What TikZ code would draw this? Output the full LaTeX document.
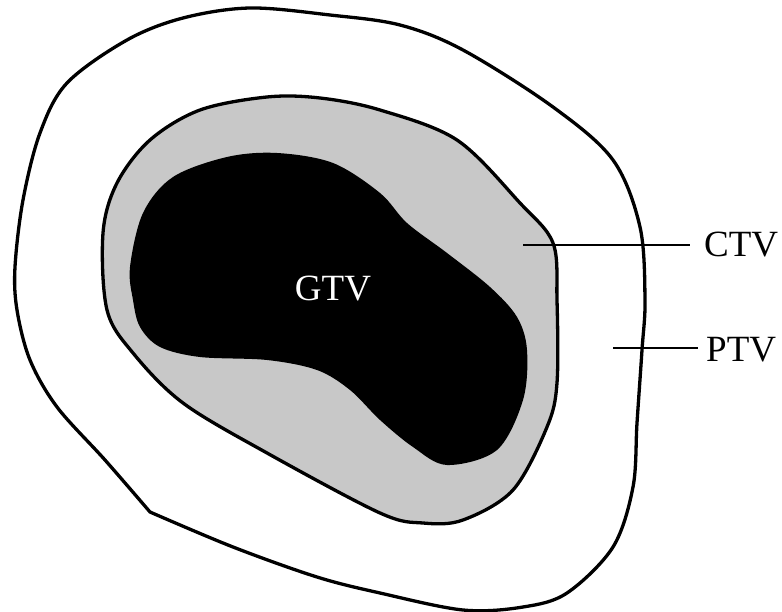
\documentclass[tikz,border=0pt]{standalone}
\usepackage{fontspec}
\setmainfont{Liberation Serif}
\begin{document}
\begin{tikzpicture}[x=1pt,y=-1pt,
  contour/.style={draw=black,line width=3.3pt,line join=round},
  leader/.style={draw=black,line width=2.2pt},
  lbl/.style={font=\fontsize{37}{40}\selectfont,inner sep=0pt}]
\useasboundingbox (0,0) rectangle (782,612);
% PTV outer contour (corner at lower left)
\draw[contour,fill=white] plot[smooth,tension=0.55] coordinates {
 (150,512) (233,547) (317,577) (380,593) (463,610) (523,607) (567,593)
 (613,547) (633,487) (637,423) (642,350) (645,300) (640,227) (613,160)
 (553,107) (463,50) (400,25) (330,15) (250,8) (183,18) (127,40) (67,83)
 (40,133) (23,200) (15,267) (17,310) (30,360) (57,407) (105,460) (150,512)} -- cycle;
% CTV contour
\draw[contour,fill={rgb,255:red,200;green,200;blue,200}] plot[smooth cycle,tension=0.55] coordinates {
 (200,110) (267,97) (320,98) (380,110) (457,140) (520,203) (553,243)
 (557,300) (557,383) (547,427) (513,490) (463,520) (423,523) (380,513)
 (267,453) (183,403) (133,353) (107,310) (103,233) (117,183) (150,140)};
% GTV
\fill[black] plot[smooth cycle,tension=0.55] coordinates {
 (133,300) (130,267) (143,213) (173,177) (227,157) (277,153) (333,163)
 (380,193) (407,223) (447,253) (490,287) (517,317) (527,350) (523,400)
 (497,450) (447,465) (413,447) (380,420) (350,390) (317,370) (267,360)
 (200,357) (160,347) (140,327)};
\node[lbl,text=white] (gtv) at (333,289) {GTV};
\node[lbl,anchor=west] (ctv) at (704,245) {CTV};
\node[lbl,anchor=west] (ptv) at (706,350) {PTV};
\coordinate (ctvin) at (523,245);
\coordinate (ctvout) at (690,245);
\coordinate (ptvin) at (613,348);
\coordinate (ptvout) at (698,348);
\draw[leader] (ctvin) -- (ctvout);
\draw[leader] (ptvin) -- (ptvout);
\end{tikzpicture}
\end{document}
